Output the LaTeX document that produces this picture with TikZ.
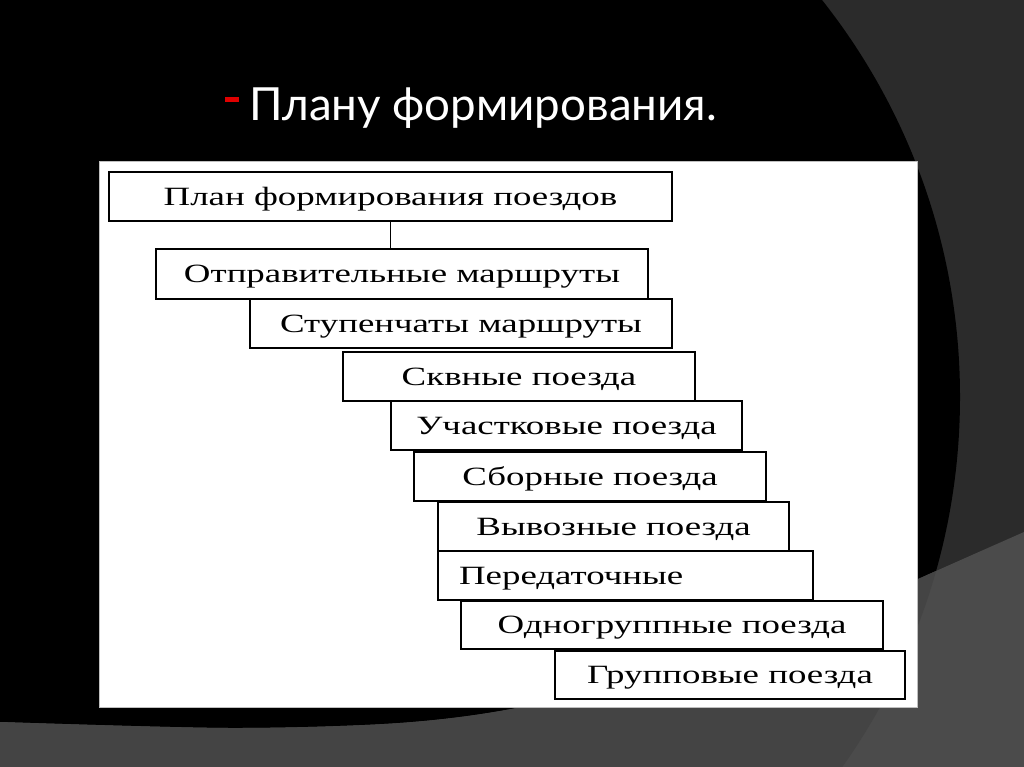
\documentclass[tikz,border=0pt]{standalone}
\usepackage{fontspec}
\setmainfont{Liberation Serif}
\newfontfamily\titlefont{Lato}
\newfontfamily\boxfont{Liberation Serif}[FakeStretch=1.4]
\definecolor{darkslab}{HTML}{2B2B2B}
\definecolor{lowslab}{HTML}{444444}
\definecolor{lowslabr}{HTML}{4B4B4B}
\definecolor{bulletred}{HTML}{E00000}

\begin{document}
\begin{tikzpicture}[x=0.02cm,y=-0.02cm,
    tier/.style={draw=black,line width=1.2pt,fill=white,rectangle,anchor=north west,inner sep=0pt,
      minimum height=0.98cm,font=\boxfont\fontsize{15}{15}\selectfont,text height=9.9pt,text depth=0pt},
    link/.style={draw=black,line width=1pt}]
  \useasboundingbox (0,0) rectangle (1024,767);
  % slide background
  \fill[darkslab] (0,0) rectangle (1024,767);
  \begin{scope}
    \clip (0,0) rectangle (1024,767);
    \fill[black] (320,397) circle[radius=640];
    \clip plot[smooth] coordinates {(0,722) (230,728) (400,723) (522,707) (700,664) (846,613) (916,580) (1024,532)}
      -- (1024,767) -- (0,767) -- cycle;
    \fill[lowslabr] (0,0) rectangle (1024,767);
    \fill[lowslab] (320,397) circle[radius=640];
  \end{scope}

  \node[anchor=base west,text=white,inner sep=0pt,font=\titlefont\fontsize{26}{26}\selectfont] (title) at (225,120)
    {\textcolor{bulletred}{\rule[0.4em]{0.3em}{0.11em}}\hspace{0.22em}Плану формирования.};

  % white sheet
  \draw[fill=white,draw=gray!50,line width=0.4pt] (99,161) rectangle (917,707);

  \node[tier,minimum width=11.26cm] (plan) at (108,171) {План формирования поездов};
  \node[tier,minimum width=9.84cm,minimum height=1.0cm] (otpr) at (155,248) {Отправительные маршруты};
  \node[tier,minimum width=8.44cm] (stup) at (249,298) {Ступенчаты маршруты};
  \node[tier,minimum width=7.04cm] (skv) at (342,351) {Сквные поезда};
  \node[tier,minimum width=7.02cm] (uch) at (390,400) {Участковые поезда};
  \node[tier,minimum width=7.04cm] (sbor) at (413,451) {Сборные поезда};
  \node[tier,minimum width=7.02cm] (vyv) at (437,501) {Вывозные поезда};
  \node[tier,inner xsep=0.42cm,text width=6.66cm,align=left] (pered) at (437,550) {Передаточные};
  \node[tier,minimum width=8.44cm,minimum height=0.96cm] (odno) at (460,600) {Одногруппные поезда};
  \node[tier,minimum width=7.0cm,minimum height=0.96cm] (grup) at (554,650) {Групповые поезда};

  \draw[link] (plan.south) -- (plan.south |- otpr.north);
\end{tikzpicture}
\end{document}
